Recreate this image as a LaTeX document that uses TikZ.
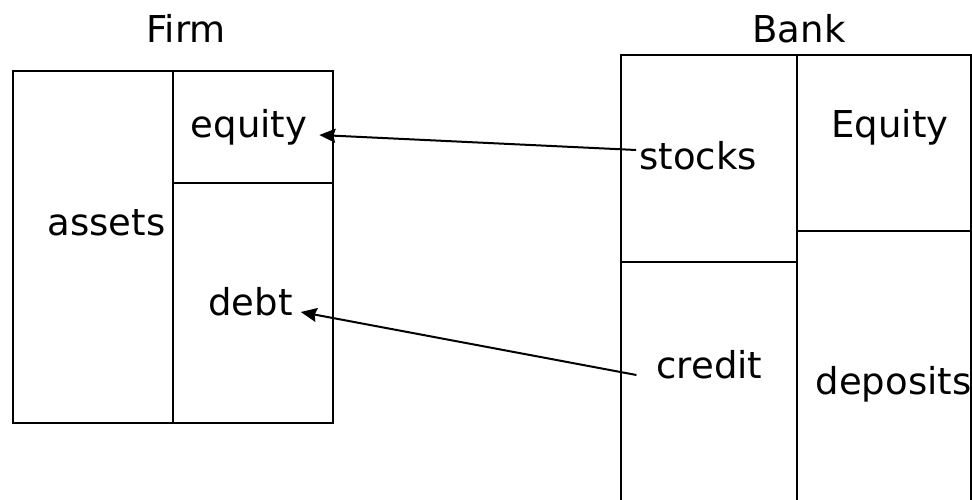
\documentclass[tikz,border=0pt]{standalone}
\usepackage{fontspec}
\setmainfont{DejaVu Sans}
\usetikzlibrary{arrows.meta}
\begin{document}
\begin{tikzpicture}[x=1pt,y=-1pt,
  box/.style={line width=2pt, line join=miter},
  lbl/.style={anchor=base, inner sep=0pt, font=\fontsize{37}{40}\selectfont},
  flow/.style={line width=2pt, -{Stealth[length=16pt,width=14pt,inset=2pt]}}]
\useasboundingbox (0,0) rectangle (972,500);
\clip (0,0) rectangle (972,500);
% Firm balance sheet
\draw[box] (12.5,71) rectangle (333,423);
\draw[box] (173,71) -- (173,423);
\draw[box] (173,183) -- (333,183);
% Bank balance sheet
\draw[box] (621,520) -- (621,55) -- (971,55) -- (971,520);
\draw[box] (797,55) -- (797,520);
\draw[box] (621,262) -- (797,262);
\draw[box] (797,231) -- (971,231);
% labels
\node[lbl] (firm) at (186,43) {Firm};
\node[lbl] (bank) at (799,43) {Bank};
\node[lbl] (fequity) at (249,138) {equity};
\node[lbl] (assets) at (106.5,235) {assets};
\node[lbl] (debt) at (250.5,315) {debt};
\node[lbl] (stocks) at (698,170) {stocks};
\node[lbl] (bequity) at (890,138) {Equity};
\node[lbl] (credit) at (709.5,378) {credit};
\node[lbl] (deposits) at (893.5,394) {deposits};
% connectors
\draw[flow] ([xshift=-3pt,yshift=20pt]stocks.base west) -- ([xshift=12pt,yshift=3pt]fequity.base east);
\draw[flow] ([xshift=-20pt,yshift=3pt]credit.base west) -- ([xshift=8pt,yshift=3pt]debt.base east);
\end{tikzpicture}
\end{document}
